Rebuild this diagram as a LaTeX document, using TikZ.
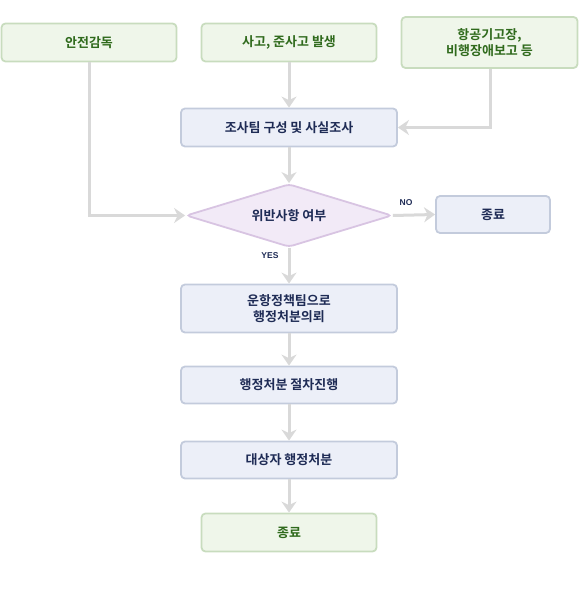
\documentclass[tikz,border=0pt]{standalone}
\usepackage{fontspec}
\setmainfont{Noto Sans CJK KR}[BoldFont={* Bold}]
\newfontfamily\latinf{Liberation Sans}
\usetikzlibrary{arrows.meta,shapes.geometric}
\definecolor{gfill}{HTML}{EFF6EA}
\definecolor{gdraw}{HTML}{C8DCBE}
\definecolor{gtext}{HTML}{2F6A1C}
\definecolor{bfill}{HTML}{ECEFF8}
\definecolor{bdraw}{HTML}{C3CBDC}
\definecolor{btext}{HTML}{1E2B55}
\definecolor{pfill}{HTML}{F2EAF7}
\definecolor{pdraw}{HTML}{D8C4E2}
\definecolor{arr}{HTML}{D9D9D9}
\tikzset{
  txt/.style={font=\bfseries\fontsize{13}{16}\selectfont,align=center,inner sep=0pt},
  gbox/.style={txt,draw=gdraw,fill=gfill,line width=1.8pt,rounded corners=4pt,text=gtext},
  bbox/.style={txt,draw=bdraw,fill=bfill,line width=1.8pt,rounded corners=4pt,text=btext},
  conn/.style={draw=arr,line width=3pt,-{Stealth[length=11pt,width=15pt,inset=3.5pt]}},
  lbl/.style={text=btext,font=\latinf\bfseries\fontsize{8.5}{10}\selectfont,inner sep=0pt}
}
\begin{document}
\begin{tikzpicture}[x=1pt,y=-1pt]
\useasboundingbox (0,0) rectangle (586,591);
\node[gbox,minimum width=175pt,minimum height=38pt] (a) at (89,42.5) {안전감독};
\node[gbox,minimum width=175pt,minimum height=38pt] (b) at (289,42.5) {사고, 준사고 발생};
\node[gbox,minimum width=176pt,minimum height=51pt] (c) at (489.5,42.5) {항공기고장,\\비행장애보고 등};
\node[bbox,minimum width=216pt,minimum height=38pt] (d) at (289,127.5) {조사팀 구성 및 사실조사};
\node[txt,diamond,aspect=3.3,draw=pdraw,fill=pfill,line width=1.8pt,rounded corners=4pt,text=btext,minimum width=206pt,minimum height=63pt] (e) at (289,215.5) {위반사항 여부};
\node[bbox,minimum width=114pt,minimum height=37pt] (f) at (493,214.5) {종료};
\node[bbox,minimum width=216pt,minimum height=48pt] (g) at (289,308.5) {운항정책팀으로\\행정처분의뢰};
\node[bbox,minimum width=216pt,minimum height=37pt] (h) at (289,385) {행정처분 절차진행};
\node[bbox,minimum width=216pt,minimum height=37pt] (i) at (289,460) {대상자 행정처분};
\node[gbox,minimum width=175pt,minimum height=38pt] (j) at (289,532.5) {종료};
\coordinate (ca) at (89,215.5);
\coordinate (cc) at (490,127.5);
\draw[conn] (b) -- (d);
\draw[conn] (a.south) -- (ca) -- (e.west);
\draw[conn] (c.south -| cc) -- (cc) -- (d.east);
\draw[conn] (d) -- (e);
\draw[conn] (e.east) -- (f.west);
\draw[conn] (e.south) -- (g.north);
\draw[conn] (g) -- (h);
\draw[conn] (h) -- (i);
\draw[conn] (i) -- (j);
\node[lbl] (no) at (406,203) {NO};
\node[lbl] (yes) at (270,255.5) {YES};
\end{tikzpicture}
\end{document}
